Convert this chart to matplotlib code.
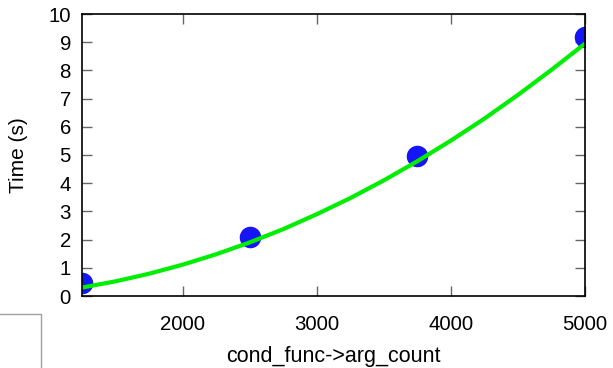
import numpy as np
import matplotlib
matplotlib.use('Agg')
from matplotlib import pyplot as plt
from matplotlib.lines import Line2D

# measured points
arg_count = [1250, 2500, 3750, 5000]
time_s = [0.45, 2.1, 4.95, 9.2]

# fitted curve
fit_x = [1250, 1500, 1750, 2000, 2250, 2500, 2750, 3000, 3250, 3500,
         3750, 4000, 4250, 4500, 4750, 5000]
fit_y = [0.30, 0.52, 0.79, 1.11, 1.48, 1.90, 2.37, 2.90, 3.47, 4.10,
         4.78, 5.51, 6.29, 7.13, 8.02, 8.95]

x_ticks = [2000, 3000, 4000, 5000]
y_ticks = list(range(0, 11))

plt.rcParams['font.family'] = ['Liberation Sans', 'DejaVu Sans']

fig = plt.figure(figsize=(6.13, 3.68), dpi=100)
ax = fig.add_axes([82 / 613, 72 / 368, 503 / 613, 282 / 368])

ax.plot(arg_count, time_s, 'o', color='#1515f5', markersize=14.5,
        clip_on=True, zorder=2)
ax.plot(fit_x, fit_y, '-', color='#00ee00', linewidth=3, zorder=3)

ax.set_xlim(1250, 5000)
ax.set_ylim(0, 10)
ax.set_xticks(x_ticks)
ax.set_yticks(y_ticks)
ax.tick_params(direction='in', length=7, width=1, color='#666666',
               labelsize=14.7, top=True, right=True, pad=8)
ax.tick_params(axis='x', pad=14)
for s in ax.spines.values():
    s.set_linewidth(1.2)
    s.set_color('black')
    s.set_zorder(4)

ax.set_xlabel('cond_func->arg_count', fontsize=15.5, labelpad=8)
ax.set_ylabel('Time (s)', fontsize=15, labelpad=15)

# stray box in lower left corner
fig.add_artist(Line2D([0, 41 / 613, 41 / 613], [54 / 368, 54 / 368, 0],
                      transform=fig.transFigure, color='#a0a0a0', linewidth=1))

fig.savefig('out.png', dpi=100)
